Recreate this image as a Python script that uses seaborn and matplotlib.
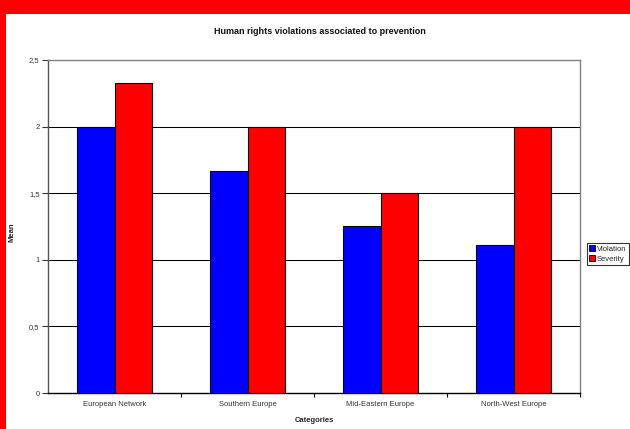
import matplotlib
matplotlib.use("Agg")
import matplotlib.pyplot as plt
from matplotlib.patches import Rectangle
import pandas as pd
import seaborn as sns

categories = ["European Network", "Southern Europe", "Mid-Eastern Europe", "North-West Europe"]
violation = [2.0, 1.67, 1.25, 1.11]
severity = [2.33, 2.0, 1.5, 2.0]
series_names = ["Violation", "Severity"]
y_ticks = [0, 0.5, 1, 1.5, 2, 2.5]
y_tick_labels = ["0", "0,5", "1", "1,5", "2", "2,5"]

df = pd.DataFrame({
    "Categories": categories * 2,
    "Series": [series_names[0]] * len(categories) + [series_names[1]] * len(categories),
    "Mean": violation + severity,
})

sns.set_style("white")
plt.rcParams["font.family"] = ["Liberation Sans", "DejaVu Sans"]

fig = plt.figure(figsize=(6.3, 4.29), dpi=100, facecolor="#FF0000")
# white page inside the red border (top band and left strip)
fig.patches.append(Rectangle((6 / 630, 0), 1 - 6 / 630, 1 - 14 / 429,
                             transform=fig.transFigure, facecolor="white",
                             edgecolor="none", zorder=-10))

ax = fig.add_axes([48 / 630, 1 - 393 / 429, (580 - 48) / 630, (393 - 60) / 429])
ax.set_facecolor("white")

sns.barplot(data=df, x="Categories", y="Mean", hue="Series",
            palette={"Violation": "#0000FF", "Severity": "#FF0000"},
            saturation=1, width=0.57, edgecolor="black", linewidth=0.8, ax=ax,
            legend=True, zorder=3)

ax.set_ylim(0, 2.5)
ax.set_xlim(-0.5, len(categories) - 0.5)
ax.set_yticks(y_ticks)
ax.set_yticklabels(y_tick_labels)

# horizontal gridlines
for v in y_ticks[1:-1]:
    ax.axhline(v, color="black", linewidth=0.75, zorder=1)

# spines
ax.spines["top"].set_color("#808080")
ax.spines["right"].set_color("#808080")
ax.spines["left"].set_color("#555555")
ax.spines["bottom"].set_color("black")
for s in ax.spines.values():
    s.set_linewidth(1.0)
    s.set_visible(True)

# tick marks: y ticks outward, x ticks at category boundaries
ax.tick_params(axis="y", direction="out", length=4, width=0.8, color="#333333",
               labelsize=5.5, pad=2, left=True)
ax.set_xticks(range(len(categories)))
ax.set_xticklabels(categories)
ax.tick_params(axis="x", which="major", length=0, labelsize=5.5, pad=6)
ax.set_xticks([i + 0.5 for i in range(len(categories))], minor=True)
ax.tick_params(axis="x", which="minor", direction="out", length=3, width=0.8,
               color="black", bottom=True)
for lbl in ax.get_xticklabels() + ax.get_yticklabels():
    lbl.set_color("#333333")

ax.set_xlabel("Categories", fontsize=5.5, fontweight="bold", labelpad=6)
ax.set_ylabel("Mean", fontsize=5.5, fontweight="bold")
ax.yaxis.set_label_coords((15 - 48) / 532, 0.483)

fig.text(0.508, 1 - 31 / 429, "Human rights violations associated to prevention",
         ha="center", va="center", fontsize=6.5, fontweight="bold", color="#111111")

ax.get_legend().remove()
handles = [Rectangle((0, 0), 1, 1, facecolor="#0000FF", edgecolor="black", linewidth=0.6),
           Rectangle((0, 0), 1, 1, facecolor="#FF0000", edgecolor="black", linewidth=0.6)]
leg = fig.legend(handles, series_names, loc="center left",
                 bbox_to_anchor=(587 / 630, 1 - 254 / 429),
                 fontsize=5.5, frameon=True, fancybox=False, shadow=False,
                 handlelength=0.8, handleheight=0.8, handletextpad=0.2,
                 borderpad=0.3, labelspacing=0.3, borderaxespad=0)
leg.get_frame().set_edgecolor("black")
leg.get_frame().set_linewidth(0.8)

fig.savefig("out.png", dpi=100, facecolor=fig.get_facecolor())
